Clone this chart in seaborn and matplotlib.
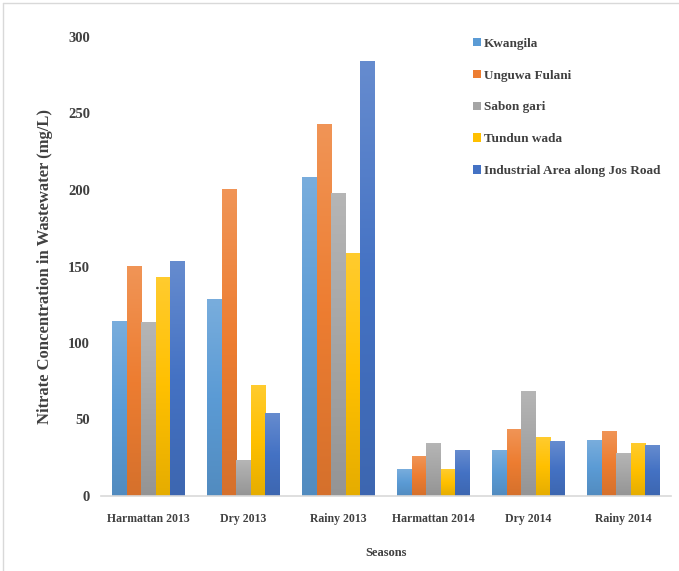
import numpy as np
import pandas as pd
import matplotlib
matplotlib.use("Agg")
import matplotlib.pyplot as plt
import matplotlib.colors as mcolors
from matplotlib.lines import Line2D
from matplotlib.patches import Patch
import seaborn as sns

seasons = ["Harmattan 2013", "Dry 2013", "Rainy 2013",
           "Harmattan 2014", "Dry 2014", "Rainy 2014"]
sites = ["Kwangila", "Unguwa Fulani", "Sabon gari", "Tundun wada",
         "Industrial Area along Jos Road"]

kwangila = [114, 128.5, 208, 17.5, 29.5, 36]
unguwa_fulani = [150, 200.5, 243, 26, 43.5, 42]
sabon_gari = [113.5, 23, 198, 34, 68.5, 27.5]
tundun_wada = [143, 72.5, 158.5, 17, 38.5, 34]
industrial_area = [153, 54, 284, 29.5, 35.5, 33]

yticks = [0, 50, 100, 150, 200, 250, 300]

site_colors = ["#5B9BD5", "#ED7D31", "#A5A5A5", "#FFC000", "#4472C4"]

series = [kwangila, unguwa_fulani, sabon_gari, tundun_wada, industrial_area]
df = pd.DataFrame({
    "Season": np.repeat([seasons], len(sites), axis=0).ravel(),
    "Site": np.repeat(sites, len(seasons)),
    "Nitrate": np.concatenate(series),
})

sns.set_theme(style="white")
plt.rcParams["font.family"] = ["Liberation Serif", "DejaVu Serif"]
plt.rcParams["font.weight"] = "bold"
text_col = "#404040"

fig = plt.figure(figsize=(6.79, 5.71), dpi=100)
ax = fig.add_axes([101 / 679, 1 - 496 / 571, 570 / 679, 459 / 571])

sns.barplot(data=df, x="Season", y="Nitrate", hue="Site", order=seasons,
            hue_order=sites, palette=site_colors, width=0.77, gap=0,
            saturation=1, legend=False, ax=ax, errorbar=None)

ax.set_ylim(0, 300)
xlim = ax.get_xlim()


def shade(c, amt):
    r = np.array(mcolors.to_rgb(c))
    if amt >= 0:
        return r + (1 - r) * amt
    return r * (1 + amt)


# vertical gradient on each bar: lighter at the top, deeper at the base
for patch in ax.patches:
    h = patch.get_height()
    if h <= 0:
        continue
    base = np.array(patch.get_facecolor()[:3])
    top = shade(base, 0.18)
    bot = shade(base, -0.10)
    t = np.linspace(0, 1, 64)[:, None]
    grad = np.where(t < 0.5,
                    top + (base - top) * (t / 0.5),
                    base + (bot - base) * ((t - 0.5) / 0.5))
    x0 = patch.get_x()
    w = patch.get_width()
    ax.imshow(grad[:, None, :], extent=[x0, x0 + w, 0, h], aspect="auto",
              origin="upper", interpolation="bilinear",
              zorder=patch.get_zorder() + 0.1)
    patch.set_edgecolor("none")

ax.set_xlim(xlim)
ax.set_ylim(0, 300)

ax.set_yticks(yticks)
ax.tick_params(axis="y", length=0, pad=8, labelsize=10.5, labelcolor=text_col)
ax.tick_params(axis="x", length=0, pad=12, labelsize=8.5, labelcolor=text_col)
for lab in ax.get_xticklabels() + ax.get_yticklabels():
    lab.set_fontweight("bold")

for side in ["top", "right", "left"]:
    ax.spines[side].set_visible(False)
ax.spines["bottom"].set_color("#d9d9d9")
ax.spines["bottom"].set_linewidth(1.2)

ax.set_xlabel("Seasons", fontsize=9, fontweight="bold", color=text_col,
              labelpad=16)
ax.set_ylabel("Nitrate Concentration in Wastewater (mg/L)", fontsize=12,
              fontweight="bold", color=text_col, labelpad=11)

handles = [Patch(facecolor=c, edgecolor="none") for c in site_colors]
leg = fig.legend(handles, sites, loc="upper left",
                 bbox_to_anchor=(461 / 679, 1 - 26 / 571), frameon=False,
                 handlelength=0.6, handleheight=0.6, handletextpad=0.25,
                 labelspacing=1.5, prop={"weight": "bold", "size": 9.5})
for t in leg.get_texts():
    t.set_color(text_col)

# light chart frame
fig.add_artist(Line2D([3 / 679, 3 / 679], [0, 1 - 3 / 571],
                      color="#d9d9d9", lw=1, transform=fig.transFigure))
fig.add_artist(Line2D([3 / 679, 1], [1 - 3 / 571, 1 - 3 / 571],
                      color="#d9d9d9", lw=1, transform=fig.transFigure))

fig.savefig("out.png", dpi=100)
